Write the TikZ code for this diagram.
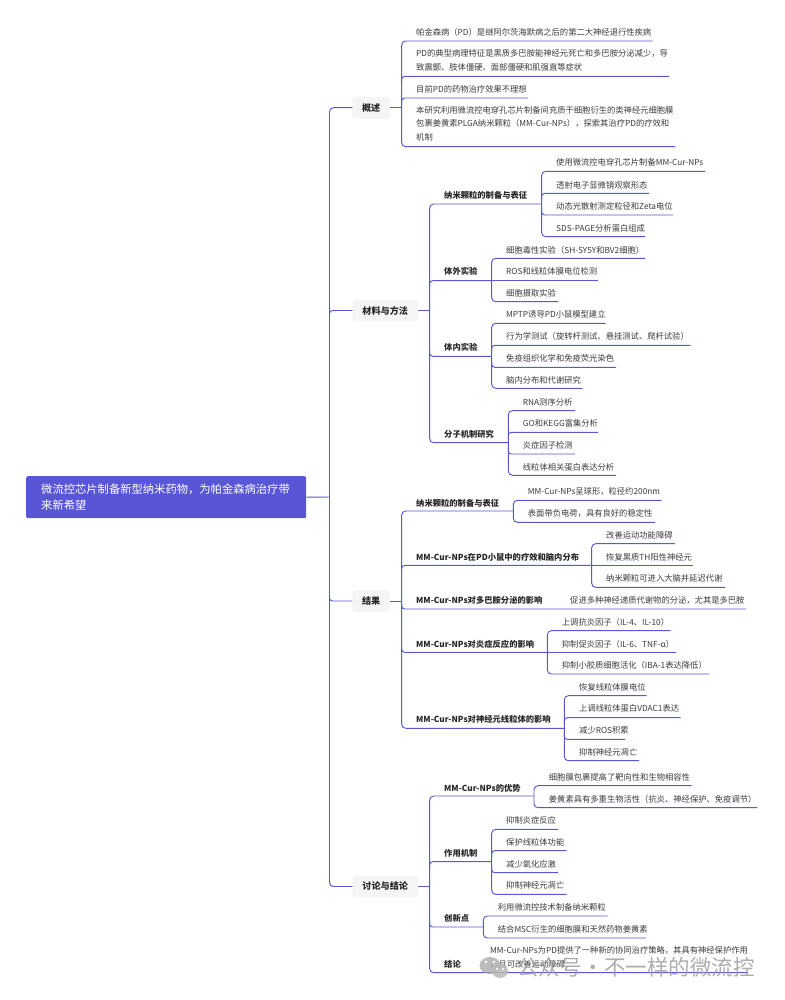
\documentclass[tikz,border=0pt]{standalone}
\usepackage{fontspec}
\setmainfont{Noto Sans CJK SC}
\definecolor{lnk}{HTML}{5B58D8}
\definecolor{rootc}{HTML}{5856D6}
\definecolor{bfill}{HTML}{F5F5F5}
\definecolor{txt}{HTML}{3C3C3C}
\tikzset{
  lk/.style={draw=lnk,line width=0.95pt},
  rc/.style={rounded corners=4pt},
  leaf/.style={anchor=west,inner sep=0pt,align=left,text=txt,font=\fontsize{8.3}{13.4}\selectfont},
  sub/.style={anchor=west,inner sep=0pt,align=left,text=black!85,font=\fontsize{8.3}{13.4}\selectfont\bfseries},
  branch/.style={rectangle,rounded corners=3pt,fill=bfill,inner sep=0pt,minimum height=21.5pt,text=black!85,font=\fontsize{9.1}{11}\selectfont\bfseries},
  rootn/.style={rectangle,rounded corners=2pt,fill=rootc,inner sep=0pt,text=white,align=left,anchor=north west,minimum width=280pt,minimum height=42pt},
}
% options, name, spine x, text x, text y, underline y, end x, text
\newcommand\lfnode[8]{%
  \node[#1] (#2) at (#4,#5) {#8};
  \coordinate (#2s) at (#3,#6);
  \coordinate (#2e) at (#7,#6);
}
\newcommand\midup[1]{\draw[lk,rounded corners=3pt] ([yshift=-6pt]#1s) -- (#1s) -- (#1e);}
\newcommand\middn[1]{\draw[lk,rounded corners=3pt] ([yshift=6pt]#1s) -- (#1s) -- (#1e);}
\newcommand\outerlink[2]{\draw[lk,rc] (#1e) -- (#1s) -- (#2s) -- (#2e);}
\begin{document}
\begin{tikzpicture}[x=1pt,y=-1pt]
\useasboundingbox (0,0) rectangle (784,1000);
\fill[white] (0,0) rectangle (784,1000);

% root and branches
\node[rootn] (root) at (26,476) {\hspace{15pt}\parbox{260pt}{\fontsize{11.3}{16}\selectfont 微流控芯片制备新型纳米药物，为帕金森病治疗带\\来新希望}\hspace{5pt}};
\node[branch,minimum width=37.5pt] (b1) at (371.2,107.7) {概述};
\node[branch,minimum width=65.5pt] (b2) at (385.2,310.5) {材料与方法};
\node[branch,minimum width=37.5pt] (b3) at (371.2,601) {结果};
\node[branch,minimum width=65.5pt] (b4) at (385.2,886.5) {讨论与结论};

\coordinate (sp2) at (329.5,310.5);
\coordinate (sp3) at (329.5,601);
\draw[lk,rc] (b1.west) -- (329.5,107.7) -- (329.5,886.5) -- (b4.west);
\draw[lk] (root.east) -- (329.5,497);
\draw[lk,rounded corners=3pt] ([yshift=-6pt]sp2) -- (sp2) -- (b2.west);
\draw[lk,rounded corners=3pt] ([yshift=6pt]sp3) -- (sp3) -- (b3.west);

% 概述
\lfnode{leaf}{a1}{401.7}{416}{32.5}{41}{652.6}{帕金森病（PD）是继阿尔茨海默病之后的第二大神经退行性疾病}
\lfnode{leaf}{a2}{401.7}{416}{60.5}{76.3}{669}{PD的典型病理特征是黑质多巴胺能神经元死亡和多巴胺分泌减少，导\\致震颤、肢体僵硬、面部僵硬和肌强直等症状}
\lfnode{leaf}{a3}{401.7}{416}{89.5}{98}{528}{目前PD的药物治疗效果不理想}
\lfnode{leaf}{a4}{401.7}{416}{123.5}{146.7}{675}{本研究利用微流控电穿孔芯片制备间充质干细胞衍生的类神经元细胞膜\\包裹姜黄素PLGA纳米颗粒（MM-Cur-NPs），探索其治疗PD的疗效和\\机制}
\draw[lk] (b1.east) -- (401.7,107.7);
\outerlink{a1}{a4}\midup{a2}\midup{a3}

% 材料与方法
\draw[lk] (b2.east) -- (429.7,310.5);
\lfnode{sub}{s1}{429.7}{444}{195.5}{204}{541.7}{纳米颗粒的制备与表征}
\lfnode{sub}{s2}{429.7}{444}{271.3}{280.7}{491.7}{体外实验}
\lfnode{sub}{s3}{429.7}{444}{347.7}{356.3}{491.7}{体内实验}
\lfnode{sub}{s4}{429.7}{444}{434.3}{442.7}{508.3}{分子机制研究}
\outerlink{s1}{s4}\midup{s2}\middn{s3}

\lfnode{leaf}{c1}{541.7}{556}{162.5}{171.3}{705}{使用微流控电穿孔芯片制备MM-Cur-NPs}
\lfnode{leaf}{c2}{541.7}{556}{185}{193.3}{649}{透射电子显微镜观察形态}
\lfnode{leaf}{c3}{541.7}{556}{206.3}{215}{673}{动态光散射测定粒径和Zeta电位}
\lfnode{leaf}{c4}{541.7}{556}{228}{236.7}{645}{SDS-PAGE分析蛋白组成}
\outerlink{c1}{c4}\midup{c2}\middn{c3}

\lfnode{leaf}{d1}{491.7}{506}{250}{258.3}{645}{细胞毒性实验（SH-SY5Y和BV2细胞）}
\lfnode{leaf}{d2}{491.7}{506}{271.5}{280.7}{598}{ROS和线粒体膜电位检测}
\lfnode{leaf}{d3}{491.7}{506}{293}{301.7}{558}{细胞摄取实验}
\outerlink{d1}{d3}\draw[lk] (d2s) -- (d2e);

\lfnode{leaf}{e1}{491.7}{506}{314.5}{323.3}{605.7}{MPTP诱导PD小鼠模型建立}
\lfnode{leaf}{e2}{491.7}{506}{336}{345.3}{690.7}{行为学测试（旋转杆测试、悬挂测试、爬杆试验）}
\lfnode{leaf}{e3}{491.7}{506}{358}{367.3}{616}{免疫组织化学和免疫荧光染色}
\lfnode{leaf}{e4}{491.7}{506}{380}{388.3}{582.7}{脑内分布和代谢研究}
\outerlink{e1}{e4}\midup{e2}\middn{e3}

\lfnode{leaf}{f1}{508.3}{522.7}{402}{410.7}{575}{RNA测序分析}
\lfnode{leaf}{f2}{508.3}{522.7}{423.5}{432.3}{598}{GO和KEGG富集分析}
\lfnode{leaf}{f3}{508.3}{522.7}{445}{454}{575}{炎症因子检测}
\lfnode{leaf}{f4}{508.3}{522.7}{467}{475.3}{616}{线粒体相关蛋白表达分析}
\outerlink{f1}{f4}\midup{f2}\middn{f3}

% 结果
\draw[lk] (b3.east) -- (401.7,601);
\lfnode{sub}{r1}{401.7}{416}{503}{511}{513.3}{纳米颗粒的制备与表征}
\lfnode{sub}{r2}{401.7}{416}{557}{565.3}{591.7}{MM-Cur-NPs在PD小鼠中的疗效和脑内分布}
\lfnode{sub}{r3}{401.7}{416}{600.3}{609}{746}{MM-Cur-NPs对多巴胺分泌的影响}
\lfnode{sub}{r4}{401.7}{416}{644}{652.3}{547.3}{MM-Cur-NPs对炎症反应的影响}
\lfnode{sub}{r5}{401.7}{416}{719.7}{728.3}{564.3}{MM-Cur-NPs对神经元线粒体的影响}
\outerlink{r1}{r5}\midup{r2}\middn{r3}\middn{r4}

\lfnode{leaf}{g1}{513.3}{527.7}{491.7}{500.3}{661.7}{MM-Cur-NPs呈球形，粒径约200nm}
\lfnode{leaf}{g2}{513.3}{527.7}{513.3}{522.3}{655}{表面带负电荷，具有良好的稳定性}
\outerlink{g1}{g2}

\lfnode{leaf}{h1}{591.7}{606}{535}{543.7}{675}{改善运动功能障碍}
\lfnode{leaf}{h2}{591.7}{606}{557}{565.3}{693.3}{恢复黑质TH阳性神经元}
\lfnode{leaf}{h3}{591.7}{606}{578.7}{587.3}{725}{纳米颗粒可进入大脑并延迟代谢}
\outerlink{h1}{h3}\draw[lk] (h2s) -- (h2e);

\node[leaf] (i1) at (570,600.3) {促进多种神经递质代谢物的分泌，尤其是多巴胺};

\lfnode{leaf}{j1}{547.3}{561.7}{622}{630.7}{670.7}{上调抗炎因子（IL-4、IL-10）}
\lfnode{leaf}{j2}{547.3}{561.7}{644}{652.3}{676}{抑制促炎因子（IL-6、TNF-α）}
\lfnode{leaf}{j3}{547.3}{561.7}{665}{674}{709}{抑制小胶质细胞活化（IBA-1表达降低）}
\outerlink{j1}{j3}\draw[lk] (j2s) -- (j2e);

\lfnode{leaf}{k1}{564.3}{579}{687}{695.7}{646.7}{恢复线粒体膜电位}
\lfnode{leaf}{k2}{564.3}{579}{708.7}{717.7}{680.7}{上调线粒体蛋白VDAC1表达}
\lfnode{leaf}{k3}{564.3}{579}{730.7}{739.3}{625}{减少ROS积累}
\lfnode{leaf}{k4}{564.3}{579}{752.3}{760.7}{639}{抑制神经元凋亡}
\outerlink{k1}{k4}\midup{k2}\middn{k3}

% 讨论与结论
\draw[lk] (b4.east) -- (429.7,886.5);
\lfnode{sub}{t1}{429.7}{444}{788}{796}{534}{MM-Cur-NPs的优势}
\lfnode{sub}{t2}{429.7}{444}{853.3}{861.7}{491.7}{作用机制}
\lfnode{sub}{t3}{429.7}{444}{918.3}{927}{483.3}{创新点}
\lfnode{sub}{t4}{429.7}{444}{964.3}{972.7}{748}{结论}
\outerlink{t1}{t4}\midup{t2}\middn{t3}

\lfnode{leaf}{m1}{534}{548.7}{777}{785.7}{691.7}{细胞膜包裹提高了靶向性和生物相容性}
\lfnode{leaf}{m2}{534}{548.7}{799}{807.7}{757.3}{姜黄素具有多重生物活性（抗炎、神经保护、免疫调节）}
\outerlink{m1}{m2}

\lfnode{leaf}{n1}{491.7}{506}{820.7}{829.3}{558}{抑制炎症反应}
\lfnode{leaf}{n2}{491.7}{506}{842.3}{850.7}{566.7}{保护线粒体功能}
\lfnode{leaf}{n3}{491.7}{506}{864}{872.7}{558}{减少氧化应激}
\lfnode{leaf}{n4}{491.7}{506}{885.7}{894.3}{566.7}{抑制神经元凋亡}
\outerlink{n1}{n4}\midup{n2}\middn{n3}

\lfnode{leaf}{o1}{483.3}{497.7}{907}{916}{607.7}{利用微流控技术制备纳米颗粒}
\lfnode{leaf}{o2}{483.3}{497.7}{929}{938}{646}{结合MSC衍生的细胞膜和天然药物姜黄素}
\outerlink{o1}{o2}

\node[leaf] (q1) at (490,957.3) {MM-Cur-NPs为PD提供了一种新的协同治疗策略，其具有神经保护作用\\，且可改善运动障碍};

% watermark
\fill[gray!70,opacity=.75] (490,965.5) ellipse (10.5pt and 8.5pt);
\fill[gray!55,opacity=.85] (500,971) ellipse (8pt and 7pt);
\fill[white] (486,962) circle (1.4pt) (494,962) circle (1.4pt) (497,969) circle (1.1pt) (503,969) circle (1.1pt);
\node[anchor=west,inner sep=0pt,text=gray!75,opacity=.85,font=\fontsize{21.5}{24}\selectfont] (wm) at (517,967) {公众号\kern0.5pt·\kern0.5pt不一样的微流控};
\end{tikzpicture}
\end{document}
